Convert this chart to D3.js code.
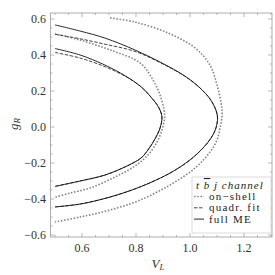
<!DOCTYPE html>
<html><head><meta charset="utf-8">
<script src="https://cdn.jsdelivr.net/npm/d3@7"></script>
<style>body{margin:0;background:#fff}</style>
</head><body>
<svg id="c" width="275" height="275"></svg>
<script>
// ---- data (V_L, g_R) ----
const fullOuter = [[0.5,0.567],[0.593,0.533],[0.685,0.494],[0.796,0.428],[0.889,0.361],[0.981,0.283],[1.037,0.217],[1.074,0.156],[1.096,0.094],[1.102,0.05],[1.096,-0.006],[1.078,-0.061],[1.048,-0.117],[1.0,-0.183],[0.926,-0.256],[0.815,-0.333],[0.704,-0.389],[0.593,-0.428],[0.5,-0.444]];
const fitOuter = [[0.5,0.515],[0.593,0.49],[0.685,0.46],[0.796,0.42],[0.889,0.358],[0.981,0.282],[1.037,0.217],[1.074,0.156],[1.096,0.094],[1.102,0.05],[1.096,-0.006],[1.078,-0.061],[1.048,-0.117],[1.0,-0.183],[0.926,-0.256],[0.815,-0.333],[0.704,-0.389],[0.593,-0.428],[0.5,-0.444]];
const shellOuter = [[0.704,0.606],[0.796,0.583],[0.919,0.522],[1.019,0.439],[1.074,0.344],[1.1,0.233],[1.115,0.133],[1.119,0.067],[1.111,-0.006],[1.1,-0.072],[1.074,-0.139],[1.019,-0.228],[0.926,-0.322],[0.815,-0.406],[0.704,-0.461],[0.593,-0.5],[0.5,-0.528]];
const fullInner = [[0.5,0.436],[0.593,0.4],[0.685,0.344],[0.759,0.285],[0.815,0.228],[0.859,0.16],[0.885,0.106],[0.896,0.056],[0.889,-0.006],[0.87,-0.067],[0.844,-0.128],[0.819,-0.172],[0.759,-0.222],[0.685,-0.267],[0.593,-0.3],[0.5,-0.33]];
const fitInner = [[0.5,0.414],[0.593,0.383],[0.685,0.335],[0.759,0.283],[0.815,0.228],[0.859,0.16],[0.885,0.106],[0.896,0.056],[0.889,-0.006],[0.87,-0.067],[0.844,-0.128],[0.819,-0.172],[0.759,-0.222],[0.685,-0.267],[0.593,-0.3],[0.5,-0.33]];
const shellInner = [[0.5,0.517],[0.593,0.483],[0.704,0.428],[0.815,0.356],[0.863,0.261],[0.889,0.178],[0.904,0.094],[0.906,0.05],[0.896,-0.017],[0.878,-0.083],[0.844,-0.156],[0.796,-0.217],[0.722,-0.278],[0.63,-0.339],[0.556,-0.367],[0.5,-0.39]];
const xTicks = [0.6, 0.8, 1.0, 1.2];
const yTicks = [-0.6, -0.4, -0.2, 0.0, 0.2, 0.4, 0.6];
const legendTitle = ["t", "b", "j channel"];
const legendLabels = ["on\u2212shell", "quadr. fit", "full ME"];

const svg = d3.select("#c");
const L = 50.5, R = 272, T = 13, B = 237;
const x = d3.scaleLinear().domain([0.4833, 1.3037]).range([L, R]);
const y = d3.scaleLinear().domain([-0.6111, 0.6333]).range([B, T]);

svg.append("defs").append("clipPath").attr("id","clip")
  .append("rect").attr("x",L).attr("y",T).attr("width",R-L).attr("height",B-T);

const frameCol = "#999";
const serif = "Liberation Serif, Times New Roman, Times, serif";

// frame
svg.append("rect").attr("x",L).attr("y",T).attr("width",R-L).attr("height",B-T)
  .attr("fill","none").attr("stroke",frameCol).attr("stroke-width",0.8);

// ticks
const xMinor = d3.range(0.5, 1.301, 0.05);
const yMinor = d3.range(-0.6, 0.601, 0.05);
const isMajor = (v, arr) => arr.some(t => Math.abs(t - v) < 1e-6);
const tk = svg.append("g").attr("stroke",frameCol).attr("stroke-width",0.7);
xMinor.forEach(v => {
  const len = isMajor(v, xTicks) ? 4 : 2;
  tk.append("line").attr("x1",x(v)).attr("x2",x(v)).attr("y1",B).attr("y2",B-len);
  tk.append("line").attr("x1",x(v)).attr("x2",x(v)).attr("y1",T).attr("y2",T+len);
});
yMinor.forEach(v => {
  const len = isMajor(v, yTicks) ? 4 : 2;
  tk.append("line").attr("y1",y(v)).attr("y2",y(v)).attr("x1",L).attr("x2",L+len);
  tk.append("line").attr("y1",y(v)).attr("y2",y(v)).attr("x1",R).attr("x2",R-len);
});

const fmt = v => (v < 0 ? "\u2212" : "") + Math.abs(v).toFixed(1);
svg.append("g").selectAll("text").data(xTicks).join("text")
  .attr("x", d => x(d)).attr("y", 252).attr("text-anchor","middle")
  .style("font-family", serif).attr("font-size", 12).attr("fill","#333").text(fmt);
svg.append("g").selectAll("text").data(yTicks).join("text")
  .attr("x", 46).attr("y", d => y(d) + 4).attr("text-anchor","end")
  .style("font-family", serif).attr("font-size", 12).attr("fill","#333").text(fmt);

// axis titles
const xt = svg.append("text").attr("x",158).attr("y",268).attr("text-anchor","middle")
  .style("font-family",serif).attr("font-size",13).attr("font-style","italic").attr("fill","#333");
xt.append("tspan").text("V");
xt.append("tspan").attr("font-size",9).attr("dy",2).text("L");
const yt = svg.append("text").attr("transform","translate(18,124) rotate(-90)").attr("text-anchor","middle")
  .style("font-family",serif).attr("font-size",13).attr("font-style","italic").attr("fill","#333");
yt.append("tspan").text("g");
yt.append("tspan").attr("font-size",9).attr("dy",2).text("R");

// curves
const line = d3.line().x(d => x(d[0])).y(d => y(d[1])).curve(d3.curveCatmullRom.alpha(0.5));
const g = svg.append("g").attr("clip-path","url(#clip)").attr("fill","none");
const styles = {
  shell: {stroke:"#888", width:1.6, dash:"1.6,1.6"},
  fit:   {stroke:"#444", width:1.0, dash:"3.5,1.5"},
  full:  {stroke:"#111", width:0.9, dash:null}
};
const draw = (data, s) => g.append("path").attr("d", line(data)).attr("stroke", s.stroke)
  .attr("stroke-width", s.width).attr("stroke-dasharray", s.dash);
draw(shellOuter, styles.shell); draw(shellInner, styles.shell);
draw(fitOuter, styles.fit); draw(fitInner, styles.fit);
draw(fullOuter, styles.full); draw(fullInner, styles.full);

// legend
const lg = svg.append("g");
lg.append("rect").attr("x",192).attr("y",177).attr("width",79).attr("height",56)
  .attr("fill","#fff").attr("stroke","#ccc").attr("stroke-width",0.7);
const tt = lg.append("text").attr("x",196).attr("y",189).style("font-family",serif)
  .attr("font-size",11).attr("font-style","italic").attr("fill","#222").attr("letter-spacing",1);
tt.append("tspan").text(legendTitle[0] + " ");
tt.append("tspan").style("text-decoration","overline").text(legendTitle[1]);
tt.append("tspan").text(" " + legendTitle[2]);
const keys = [styles.shell, styles.fit, styles.full];
legendLabels.forEach((lab, i) => {
  const yy = 200 + i * 11.3;
  lg.append("line").attr("x1",194).attr("x2",204).attr("y1",yy-3.5).attr("y2",yy-3.5)
    .attr("stroke",keys[i].stroke).attr("stroke-width",keys[i].width).attr("stroke-dasharray",keys[i].dash);
  lg.append("text").attr("x",209).attr("y",yy).style("font-family",serif).attr("font-size",11)
    .attr("fill","#222").attr("letter-spacing",1.2).text(lab);
});
</script>
</body></html>
